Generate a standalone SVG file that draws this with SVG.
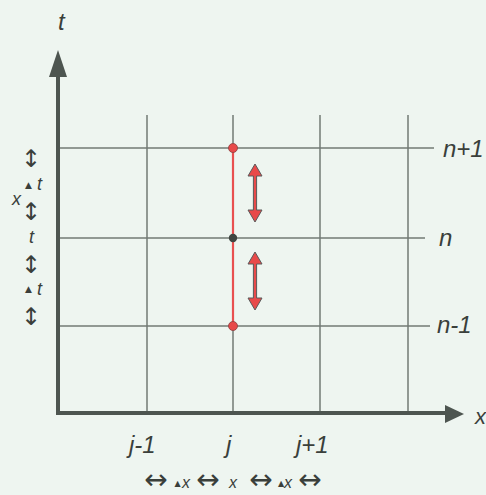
<svg xmlns="http://www.w3.org/2000/svg" width="486" height="495" viewBox="0 0 486 495">
<style>
.grid{stroke:#727a74;stroke-width:1.5;fill:none}
.axis{stroke:#4d5550;stroke-width:4;fill:none}
.lbl{font-family:"Liberation Sans",Arial,sans-serif;font-style:italic;fill:#3a3f3b}
.sym{font-family:"DejaVu Sans",sans-serif;fill:#3a3f3b}
.red{fill:#e84a4a;stroke:#5a5a5a;stroke-width:1}
</style>
<defs>
<polygon id="dblarrow" points="0,-29 7,-17 1.6,-17 1.6,17 7,17 0,29 -7,17 -1.6,17 -1.6,-17 -7,-17" class="red"/>
</defs>
<rect width="486" height="495" fill="#eef5f0"/>
<g id="connectors">
<g id="grid">
<line class="grid" x1="147" y1="115" x2="147" y2="413"/>
<line class="grid" x1="233" y1="115" x2="233" y2="413"/>
<line class="grid" x1="320" y1="115" x2="320" y2="413"/>
<line class="grid" x1="408" y1="115" x2="408" y2="413"/>
<line class="grid" x1="58" y1="148" x2="434" y2="148"/>
<line class="grid" x1="58" y1="238" x2="425" y2="238"/>
<line class="grid" x1="58" y1="326" x2="430" y2="326"/>
</g>
<g id="axes">
<line class="axis" x1="58" y1="415" x2="58" y2="75"/>
<polygon points="58,50 49,77 67,77" fill="#4d5550"/>
<line class="axis" x1="56" y1="413" x2="447" y2="413"/>
<polygon points="464,414 445,405 445,423" fill="#4d5550"/>
</g>
<line id="stencil" x1="233" y1="148" x2="233" y2="326" stroke="#e85050" stroke-width="2.2"/>
<use href="#dblarrow" x="255" y="193"/>
<use href="#dblarrow" x="255" y="281"/>
</g>
<g id="node-top"><circle cx="233" cy="148" r="4.5" fill="#e84a4a" stroke="#8a4040" stroke-width="0.8"/></g>
<g id="node-mid"><circle cx="233" cy="238" r="4.2" fill="#3f4541"/></g>
<g id="node-bot"><circle cx="233" cy="326" r="4.5" fill="#e84a4a" stroke="#8a4040" stroke-width="0.8"/></g>
<g id="axis-labels">
<text class="lbl" x="58" y="30" font-size="24">t</text>
<text class="lbl" x="475" y="424" font-size="22">x</text>
</g>
<g id="time-labels">
<text class="lbl" x="443" y="157" font-size="24">n+1</text>
<text class="lbl" x="439" y="246" font-size="24">n</text>
<text class="lbl" x="437" y="333" font-size="24">n-1</text>
</g>
<g id="space-labels">
<text class="lbl" x="129" y="453" font-size="24">j-1</text>
<text class="lbl" x="226" y="453" font-size="24">j</text>
<text class="lbl" x="296" y="453" font-size="24">j+1</text>
</g>
<g id="dt-labels">
<text class="sym" x="31" y="167" font-size="24" text-anchor="middle">↕</text>
<text class="sym" x="28.5" y="188" font-size="9" text-anchor="middle">▲</text>
<text class="lbl" x="37" y="190" font-size="18">t</text>
<text class="lbl" x="12" y="205" font-size="18">x</text>
<text class="sym" x="31" y="220" font-size="24" text-anchor="middle">↕</text>
<text class="lbl" x="29" y="243" font-size="18">t</text>
<text class="sym" x="31" y="273" font-size="24" text-anchor="middle">↕</text>
<text class="sym" x="28.5" y="292" font-size="9" text-anchor="middle">▲</text>
<text class="lbl" x="37" y="295" font-size="18">t</text>
<text class="sym" x="31" y="325" font-size="24" text-anchor="middle">↕</text>
</g>
<g id="dx-labels">
<text class="sym" x="156" y="489" font-size="28" text-anchor="middle">↔</text>
<text class="sym" x="177.5" y="486" font-size="8" text-anchor="middle">▲</text>
<text class="lbl" x="182" y="488" font-size="16">x</text>
<text class="sym" x="208" y="489" font-size="28" text-anchor="middle">↔</text>
<text class="lbl" x="229" y="488" font-size="16">x</text>
<text class="sym" x="261" y="489" font-size="28" text-anchor="middle">↔</text>
<text class="sym" x="281" y="486" font-size="8" text-anchor="middle">▲</text>
<text class="lbl" x="284" y="488" font-size="16">x</text>
<text class="sym" x="310" y="489" font-size="28" text-anchor="middle">↔</text>
</g>
</svg>
